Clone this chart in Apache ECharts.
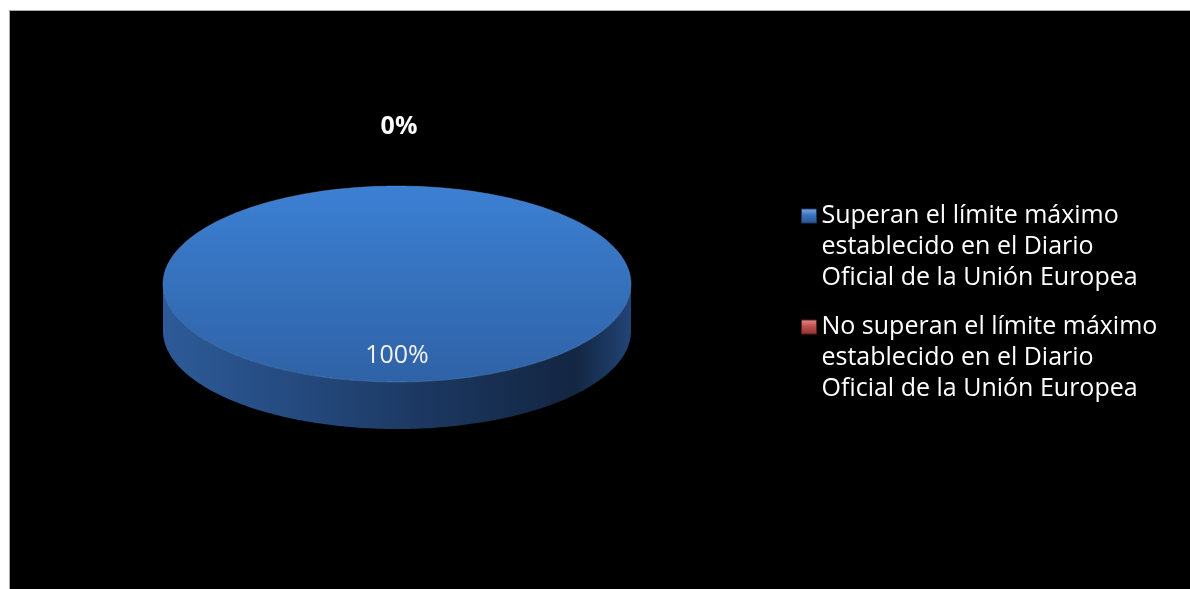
<!DOCTYPE html>
<html><head><meta charset="utf-8">
<script src="https://cdn.jsdelivr.net/npm/echarts@6/dist/echarts.min.js"></script>
<style>
html,body{margin:0;padding:0;background:#fff;width:1190px;height:589px;overflow:hidden}
#frame{position:absolute;left:9px;top:10px;width:1181px;height:579px;background:#a8a8a8}
#main{position:absolute;left:10px;top:11px;width:1180px;height:578px;background:#000}
</style></head><body><div id="frame"></div><div id="main"></div>
<script>
// ---- data ----
const categories = [
  'Superan el límite máximo establecido en el Diario Oficial de la Unión Europea',
  'No superan el límite máximo establecido en el Diario Oficial de la Unión Europea'
];
const legendLabels = [
  'Superan el límite máximo\nestablecido en el Diario\nOficial de la Unión Europea',
  'No superan el límite máximo\nestablecido en el Diario\nOficial de la Unión Europea'
];
const values = [100, 0];
const baseColors = ['#3a72bf', '#c0504d'];

// ---- styles / layout ----
const CX = 387, CY = 273, RX = 234, RY = 98, DEPTH = 47;
const FONT = '"Open Sans", Lato, sans-serif';
const total = values.reduce((a, b) => a + b, 0);

function pt(a, dy) {
  return [CX + RX * Math.sin(a), CY - RY * Math.cos(a) + (dy || 0)];
}
function arc(a0, a1, dy, n) {
  const pts = [];
  for (let i = 0; i <= n; i++) pts.push(pt(a0 + (a1 - a0) * i / n, dy));
  return pts;
}

const topGrad = [
  {type:'linear',x:0,y:0,x2:0,y2:1,colorStops:[{offset:0,color:'#3c80d3'},{offset:1,color:'#2f62a6'}]},
  {type:'linear',x:0,y:0,x2:0,y2:1,colorStops:[{offset:0,color:'#d0605c'},{offset:1,color:'#a43f3c'}]}
];
const sideGrad = [
  {type:'linear',x:0,y:0,x2:1,y2:0,colorStops:[
    {offset:0,color:'#2d5b98'},{offset:0.3,color:'#24497d'},{offset:0.65,color:'#193257'},
    {offset:0.88,color:'#132642'},{offset:1,color:'#224476'}]},
  {type:'linear',x:0,y:0,x2:1,y2:0,colorStops:[
    {offset:0,color:'#8e3734'},{offset:1,color:'#4e1c1b'}]}
];

function makeRender(idx) {
  return function (params, api) {
    const v = api.value(0);
    let before = 0;
    for (let k = 0; k < idx; k++) before += values[k];
    const a0 = before / total * Math.PI * 2;
    const a1 = (before + v) / total * Math.PI * 2;
    const children = [];
    const share = v / total;
    if (a1 - a0 > 1e-6) {
      const s = Math.max(a0, Math.PI / 2), e = Math.min(a1, Math.PI * 1.5);
      if (e > s) {
        const n = Math.max(8, Math.round((e - s) * 60));
        const pts = arc(s, e, 0, n).concat(arc(e, s, DEPTH, n));
        children.push({type:'polygon', shape:{points:pts}, style:{fill:sideGrad[idx]}});
      }
      let topPts;
      if (a1 - a0 >= Math.PI * 2 - 1e-6) {
        topPts = arc(0, Math.PI * 2, 0, 360);
      } else {
        const n = Math.max(8, Math.round((a1 - a0) * 60));
        topPts = [[CX, CY]].concat(arc(a0, a1, 0, n));
      }
      children.push({type:'polygon', shape:{points:topPts},
        style:{fill:topGrad[idx], stroke:'rgba(110,160,225,0.35)', lineWidth:1}});
    }
    const m = (a0 + a1) / 2;
    const pct = Math.round(share * 100) + '%';
    let lx, ly, weight, col;
    if (share >= 0.05) {
      lx = CX + 0.73 * RX * Math.sin(m); ly = CY - 0.73 * RY * Math.cos(m);
      weight = 'normal'; col = '#f2f2f2';
    } else {
      lx = CX + 2 + 1.6 * RX * Math.sin(m); ly = CY - 1.6 * RY * Math.cos(m);
      weight = 'bold'; col = '#ffffff';
    }
    children.push({type:'text', style:{text:pct, x:lx, y:ly, fill:col,
      font: weight + ' 25px ' + FONT, align:'center', verticalAlign:'middle'}, z2:10});
    return {type:'group', children};
  };
}

const chart = echarts.init(document.getElementById('main'), null, {renderer:'canvas'});
const legendTops = [127.5, 238.5];
chart.setOption({
  backgroundColor: '#000',
  animation: false,
  legend: categories.map((c, i) => ({
    data: [{name: c, itemStyle: {color: {type:'linear',x:0,y:0,x2:0,y2:1,colorStops:[
      {offset:0,color: i === 0 ? '#86aee0' : '#e4908d'},{offset:0.45,color: baseColors[i]},{offset:1,color: i === 0 ? '#2a5590' : '#8e3230'}]},
      borderColor: i === 0 ? '#1c3a66' : '#5e1f1d', borderWidth: 1}}],
    left: 791, top: legendTops[i], orient: 'vertical', padding: 0,
    icon: 'rect', itemWidth: 15, itemHeight: 14, selectedMode: false,
    formatter: () => '\n\n' + legendLabels[i],
    textStyle: {color:'#ffffff', fontSize:25, fontFamily:FONT, lineHeight:31}
  })),
  series: categories.map((c, i) => ({
    type: 'custom', name: c, coordinateSystem: 'none',
    itemStyle: {color: baseColors[i]},
    renderItem: makeRender(i),
    data: [[values[i]]]
  }))
});
</script></body></html>
